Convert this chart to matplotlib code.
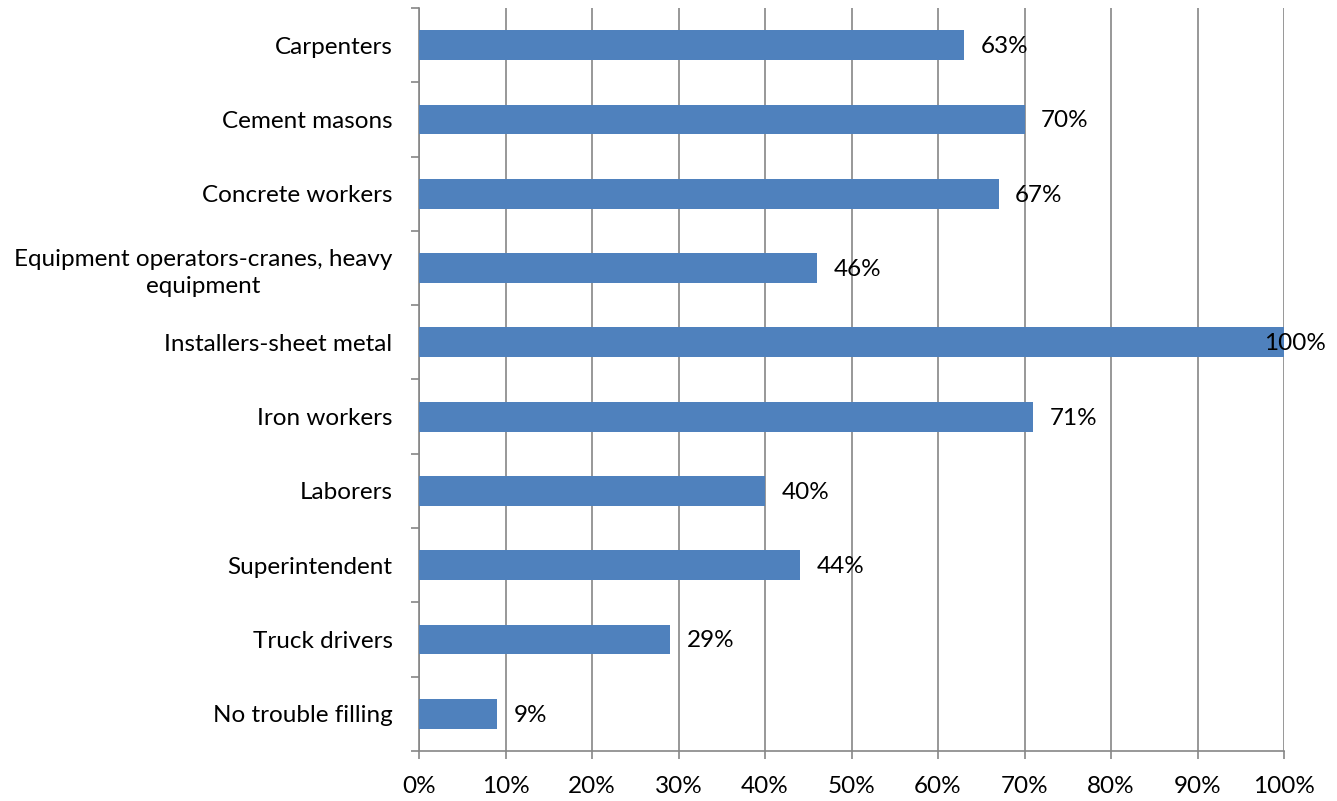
import matplotlib
matplotlib.use("Agg")
import matplotlib.pyplot as plt
import numpy as np

categories = [
    "Carpenters",
    "Cement masons",
    "Concrete workers",
    "Equipment operators-cranes, heavy\nequipment",
    "Installers-sheet metal",
    "Iron workers",
    "Laborers",
    "Superintendent",
    "Truck drivers",
    "No trouble filling",
]
values = [63, 70, 67, 46, 100, 71, 40, 44, 29, 9]
x_ticks = [0, 10, 20, 30, 40, 50, 60, 70, 80, 90, 100]

plt.rcParams["font.family"] = ["Lato", "DejaVu Sans"]
FS = 17.5
GRID = "#868686"
BAR = "#4F81BD"

fig = plt.figure(figsize=(13.37, 8.01), dpi=100)
ax = fig.add_axes([419 / 1337, 1 - 751 / 801, (1284 - 419) / 1337, (751 - 8) / 801])

n = len(categories)
ypos = np.arange(n)
ax.barh(ypos, values, height=0.4, color=BAR, zorder=3)

ax.set_xlim(0, 100)
ax.set_ylim(n - 0.5, -0.5)

# vertical gridlines
ax.set_xticks(x_ticks)
ax.set_xticklabels([f"{t}%" for t in x_ticks], fontsize=FS)
ax.xaxis.grid(True, color=GRID, linewidth=1.2, zorder=0)
ax.tick_params(axis="x", direction="out", length=6, width=1.2, color=GRID, pad=12)

# category boundaries as major ticks, names on minor ticks at bar centers
ax.set_yticks(np.arange(n + 1) - 0.5)
ax.set_yticklabels([])
ax.set_yticks(ypos, minor=True)
ax.set_yticklabels(categories, minor=True, fontsize=FS, multialignment="center",
                   linespacing=1.35)
ax.tick_params(axis="y", which="major", direction="out", length=6, width=1.2, color=GRID)
ax.tick_params(axis="y", which="minor", length=0, pad=19)

for side in ["top", "right"]:
    ax.spines[side].set_visible(False)
for side in ["left", "bottom"]:
    ax.spines[side].set_color(GRID)
    ax.spines[side].set_linewidth(1.2)

for y, v in zip(ypos, values):
    if v >= 95:
        ax.annotate(f"{v}%", (v, y), xytext=(8, -1), textcoords="offset points",
                    ha="center", va="center", fontsize=FS, zorder=4)
    else:
        ax.annotate(f"{v}%", (v, y), xytext=(12, -1), textcoords="offset points",
                    ha="left", va="center", fontsize=FS, zorder=4)

fig.savefig("out.png", dpi=100)
